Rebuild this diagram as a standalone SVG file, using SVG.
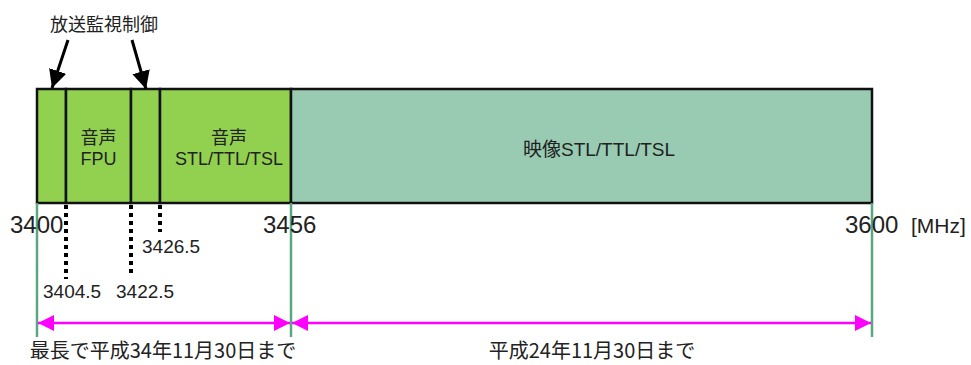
<svg xmlns="http://www.w3.org/2000/svg" width="971" height="365" viewBox="0 0 971 365">
<style>
.t{font-family:"Liberation Sans","Noto Sans CJK JP",sans-serif;fill:#222}
.j{font-family:"Noto Sans CJK JP",sans-serif;fill:#222}
.band{stroke:#111;stroke-width:2.5}
.dot{stroke:#000;stroke-width:4;stroke-dasharray:4 4;fill:none}
.gl{stroke:#5aa882;stroke-width:2.5}
.mg{stroke:#ff00ff;stroke-width:2.5;fill:none;marker-start:url(#ms);marker-end:url(#me)}
.ar{stroke:#000;stroke-width:3;fill:none;marker-end:url(#ba)}
</style>
<defs>
<marker id="me" viewBox="0 0 10 10" refX="10" refY="5" markerWidth="16" markerHeight="16" markerUnits="userSpaceOnUse" orient="auto"><path d="M0,0L10,5L0,10z" fill="#ff00ff"/></marker>
<marker id="ms" viewBox="0 0 10 10" refX="0" refY="5" markerWidth="16" markerHeight="16" markerUnits="userSpaceOnUse" orient="auto"><path d="M10,0L0,5L10,10z" fill="#ff00ff"/></marker>
<marker id="ba" viewBox="0 0 10 10" refX="10" refY="5" markerWidth="18" markerHeight="18" markerUnits="userSpaceOnUse" orient="auto"><path d="M0,0L10,5L0,10z" fill="#000"/></marker>
</defs>
<g id="band-ctrl1"><rect class="band" x="37" y="89" width="29" height="114" fill="#92d050"/></g>
<g id="band-fpu"><rect class="band" x="66" y="89" width="65" height="114" fill="#92d050"/>
<text class="j" x="98.5" y="144" font-size="18" text-anchor="middle">音声</text>
<text class="t" x="98.5" y="165" font-size="18" text-anchor="middle">FPU</text></g>
<g id="band-ctrl2"><rect class="band" x="131" y="89" width="29" height="114" fill="#92d050"/></g>
<g id="band-audio-stl"><rect class="band" x="160" y="89" width="131" height="114" fill="#92d050"/>
<text class="j" x="229" y="144" font-size="18" text-anchor="middle">音声</text>
<text class="t" x="229" y="165" font-size="18" text-anchor="middle">STL/TTL/TSL</text></g>
<g id="band-video-stl"><rect class="band" x="291" y="89" width="581" height="114" fill="#99cbb2"/>
<text class="t" x="599" y="156" font-size="19" text-anchor="middle">映像STL/TTL/TSL</text></g>
<g id="connectors">
<line class="ar" x1="68" y1="40" x2="52" y2="88"/>
<line class="ar" x1="132" y1="40" x2="146" y2="89"/>
<line class="dot" x1="66" y1="205" x2="66" y2="279"/>
<line class="dot" x1="131" y1="205" x2="131" y2="276"/>
<line class="dot" x1="160" y1="205" x2="160" y2="232"/>
<line class="gl" x1="37" y1="203" x2="37" y2="337"/>
<line class="gl" x1="291" y1="203" x2="291" y2="337"/>
<line class="gl" x1="872" y1="203" x2="872" y2="337"/>
<line class="mg" x1="38" y1="323" x2="290" y2="323"/>
<line class="mg" x1="292" y1="323" x2="871" y2="323"/>
</g>
<g id="labels">
<text class="j" x="104" y="31" font-size="18" text-anchor="middle">放送監視制御</text>
<text class="t" x="10" y="233" font-size="24">3400</text>
<text class="t" x="263" y="233" font-size="24">3456</text>
<text class="t" x="845" y="233" font-size="24">3600</text>
<text class="t" x="911" y="233" font-size="21">[MHz]</text>
<text class="t" x="142" y="253" font-size="19">3426.5</text>
<text class="t" x="43" y="298" font-size="19">3404.5</text>
<text class="t" x="116" y="298" font-size="19">3422.5</text>
<text class="j" x="163" y="358" font-size="20" text-anchor="middle">最長で平成34年11月30日まで</text>
<text class="j" x="592" y="358" font-size="20" text-anchor="middle">平成24年11月30日まで</text>
</g>
</svg>
